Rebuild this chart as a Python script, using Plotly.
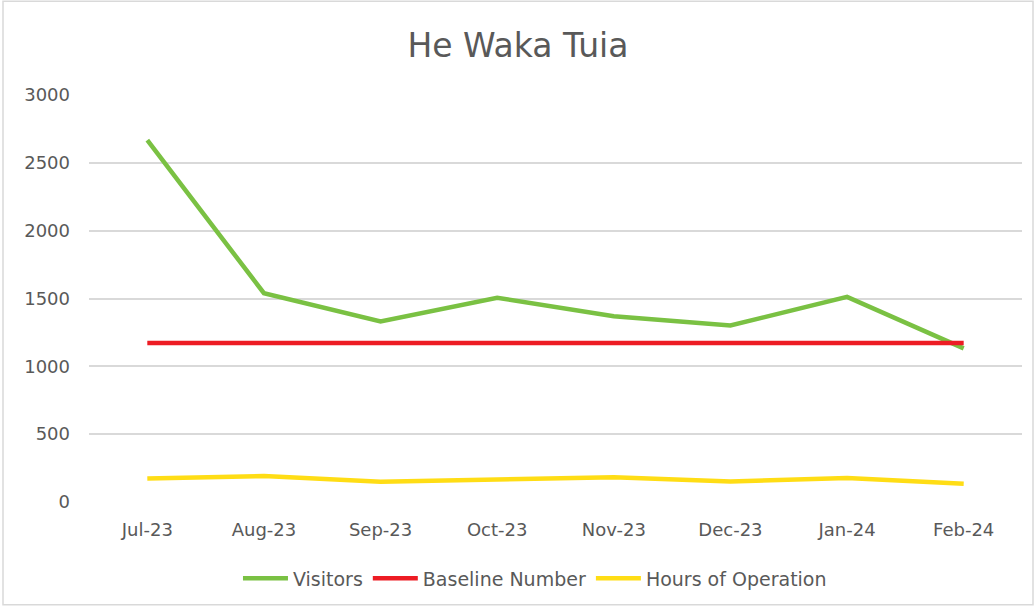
import plotly.graph_objects as go

months = ["Jul-23", "Aug-23", "Sep-23", "Oct-23", "Nov-23", "Dec-23", "Jan-24", "Feb-24"]
visitors = [2667, 1539, 1331, 1505, 1370, 1301, 1512, 1132]
baseline = [1172, 1172, 1172, 1172, 1172, 1172, 1172, 1172]
hours = [174, 191, 150, 168, 182, 152, 177, 135]

FONT = "DejaVu Sans"
GREY = "#595959"

fig = go.Figure()
fig.add_trace(go.Scatter(x=months, y=visitors, name="Visitors", mode="lines",
                         line=dict(color="#7AC143", width=4.5)))
fig.add_trace(go.Scatter(x=months, y=baseline, name="Baseline Number", mode="lines",
                         line=dict(color="#ED1C24", width=4.5)))
fig.add_trace(go.Scatter(x=months, y=hours, name="Hours of Operation", mode="lines",
                         line=dict(color="#FFDD15", width=4.5)))

fig.update_layout(
    width=1036, height=608,
    margin=dict(l=89, r=14, t=95, b=105),
    paper_bgcolor="white", plot_bgcolor="white",
    font=dict(family=FONT, color=GREY, size=18),
    title=dict(text="He Waka Tuia", x=0.5, xanchor="center", y=0.925, yanchor="middle",
               font=dict(family=FONT, size=33, color=GREY)),
    showlegend=True,
    legend=dict(orientation="h", x=0.478, xanchor="center", y=-0.185, yanchor="middle",
                font=dict(family=FONT, size=19, color=GREY), itemwidth=45),
    xaxis=dict(showgrid=False, showline=False, zeroline=False, ticks="",
               range=[-0.5, len(months) - 0.5],
               tickfont=dict(size=18, color=GREY), ticklabelstandoff=15),
    yaxis=dict(range=[0, 3000], dtick=500, showgrid=True, gridcolor="#D9D9D9", gridwidth=1.5,
               zeroline=False, showline=False, ticks="",
               tickfont=dict(size=18, color=GREY), ticklabelstandoff=18),
)

fig.add_shape(type="rect", xref="paper", yref="paper",
              x0=(3 - 89) / 933, x1=(1033 - 89) / 933,
              y0=(503 - 606) / 408, y1=(503 - 1) / 408,
              line=dict(color="#D9D9D9", width=1.5), fillcolor="rgba(0,0,0,0)", layer="below")

fig.write_html("out.html", config={"displayModeBar": False},
               post_script="document.body.style.margin='0';document.body.style.overflow='hidden';")
